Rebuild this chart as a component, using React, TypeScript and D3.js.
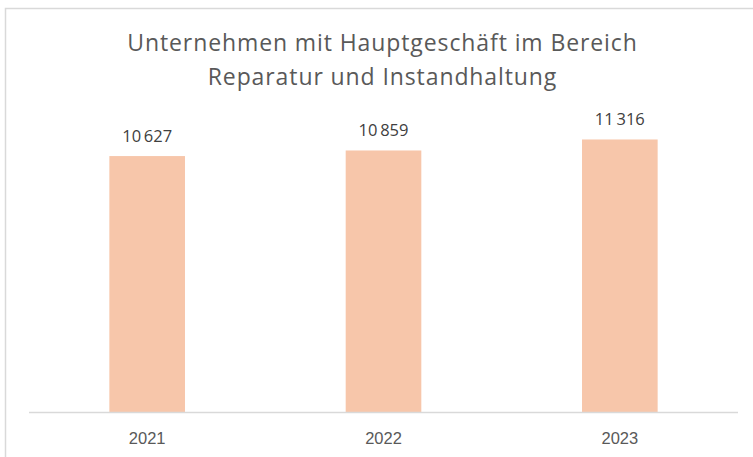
import React from 'react';
import * as d3 from 'd3';

// chart data
const years = ['2021', '2022', '2023'];
const companies = [10627, 10859, 11316];
const titleLines = ['Unternehmen mit Hauptgeschäft im Bereich', 'Reparatur und Instandhaltung'];

const W = 753;
const H = 457;

export default function App() {
  const margin = { top: 123, left: 29, right: 15, bottom: 45 };
  const baseline = H - margin.bottom;

  const x = d3.scaleBand<string>()
    .domain(years)
    .range([margin.left, W - margin.right])
    .paddingInner(0.68)
    .paddingOuter(0.34);
  const y = d3.scaleLinear().domain([0, 12000]).range([baseline, margin.top]);

  const fmt = (v: number) => d3.format(',')(v).replace(',', '\u2009');

  return (
    <svg width={W} height={H} style={{ position: 'absolute', left: 0, top: 0, background: '#fff' }}>
      {/* frame */}
      <rect x={5.5} y={8.5} width={W + 10} height={H + 10} fill="#fff" stroke="#d9d9d9" strokeWidth={1.5} />
      {/* title */}
      {titleLines.map((t, i) => (
        <text key={t} x={382.5} y={51 + i * 34} textAnchor="middle" fontFamily="'Open Sans', sans-serif"
          fontSize={23} letterSpacing={0.9} fill="#595959">
          {t}
        </text>
      ))}
      {/* bars */}
      {years.map((yr, i) => (
        <rect key={yr} x={x(yr)} y={y(companies[i])} width={x.bandwidth()} height={baseline - y(companies[i])} fill="#f7c6aa" />
      ))}
      {/* value labels */}
      {years.map((yr, i) => (
        <text key={'v' + yr} x={(x(yr) as number) + x.bandwidth() / 2} y={y(companies[i]) - 14} textAnchor="middle"
          fontFamily="'Open Sans', sans-serif" fontSize={16.5} fill="#404040">
          {fmt(companies[i])}
        </text>
      ))}
      {/* axis */}
      <line x1={margin.left} x2={W - margin.right} y1={baseline + 0.5} y2={baseline + 0.5} stroke="#d9d9d9" strokeWidth={1.5} />
      {years.map((yr) => (
        <text key={'t' + yr} x={(x(yr) as number) + x.bandwidth() / 2} y={baseline + 32} textAnchor="middle"
          fontFamily="'Liberation Sans', Arial, sans-serif" fontSize={16.5} fill="#595959">
          {yr}
        </text>
      ))}
    </svg>
  );
}
